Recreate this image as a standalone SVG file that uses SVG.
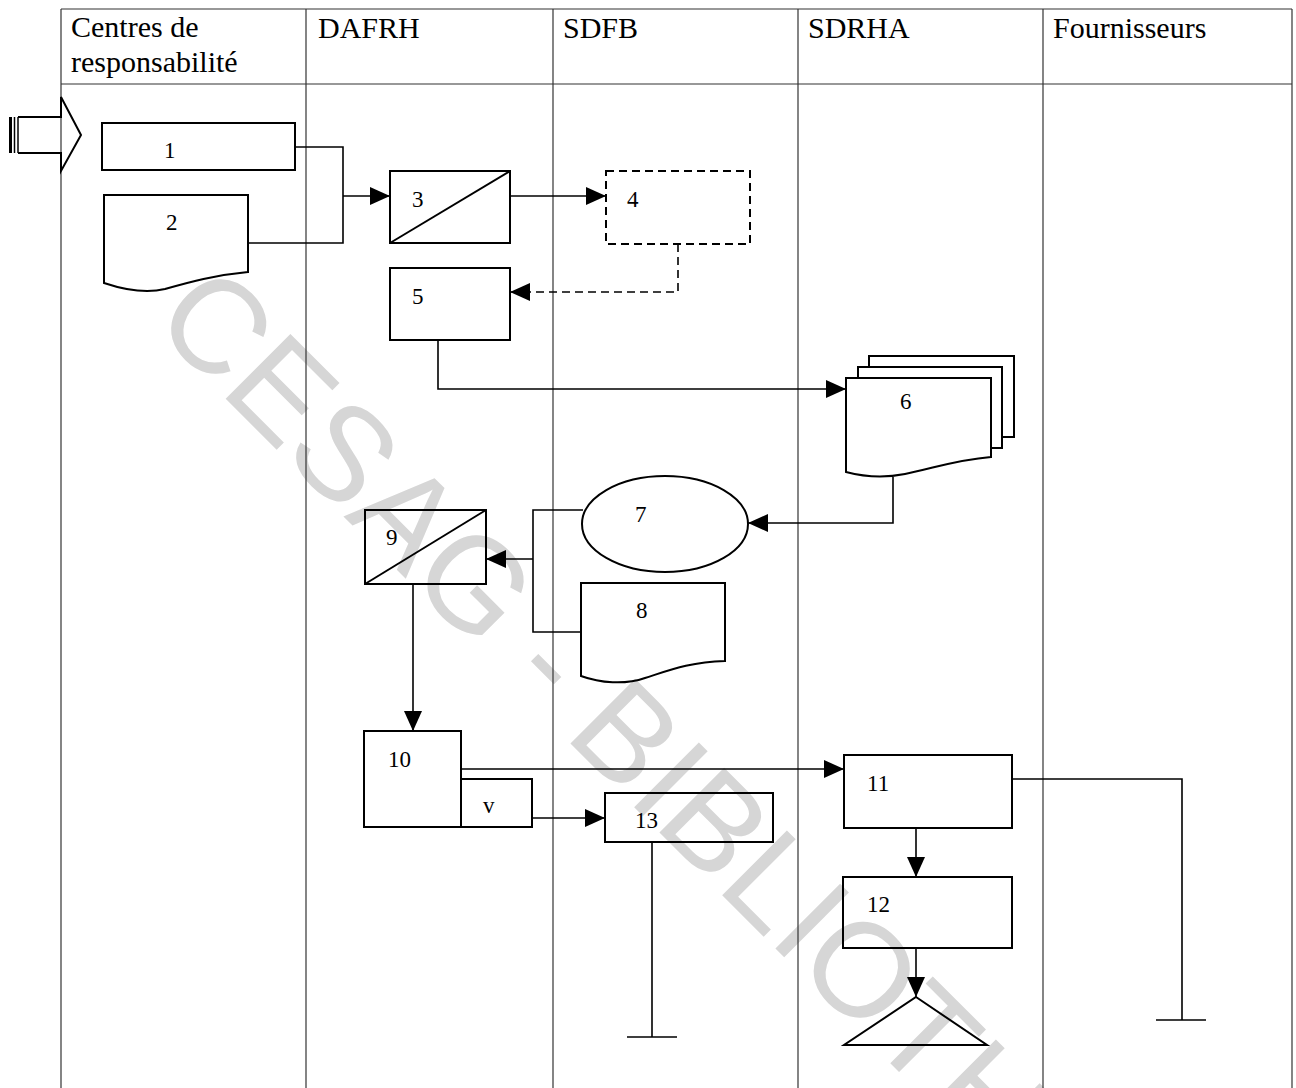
<svg xmlns="http://www.w3.org/2000/svg" width="1296" height="1088" viewBox="0 0 1296 1088">
<style>
.lane{stroke:#333;stroke-width:1.2;fill:none}
.shape{stroke:#000;stroke-width:2;fill:none}
.conn{stroke:#000;stroke-width:1.6;fill:none}
.dash{stroke-dasharray:8,5}
.hdr{font-family:"Liberation Serif","Times New Roman",serif;font-size:30px;fill:#000}
.lbl{font-family:"Liberation Serif","Times New Roman",serif;font-size:23px;fill:#000}
.wm{font-family:"Liberation Sans",Arial,sans-serif;font-size:133px;fill:#d6d6d6}
</style>
<defs>
<marker id="ah" markerUnits="userSpaceOnUse" markerWidth="20" markerHeight="18" refX="20" refY="9" orient="auto">
<path d="M0,0 L20,9 L0,18 Z" fill="#000"/>
</marker>
</defs>
<rect width="1296" height="1088" fill="#fff"/>
<text class="wm" transform="translate(150,323) rotate(45)">CESAG - BIBLIOTH</text>

<g id="lanes">
<line class="lane" x1="61" y1="9" x2="1292" y2="9"/>
<line class="lane" x1="61" y1="84" x2="1292" y2="84"/>
<line class="lane" x1="61" y1="9" x2="61" y2="1088"/>
<line class="lane" x1="306" y1="9" x2="306" y2="1088"/>
<line class="lane" x1="553" y1="9" x2="553" y2="1088"/>
<line class="lane" x1="798" y1="9" x2="798" y2="1088"/>
<line class="lane" x1="1043" y1="9" x2="1043" y2="1088"/>
<line class="lane" x1="1292" y1="9" x2="1292" y2="1088"/>
<text class="hdr" x="71" y="37">Centres de</text>
<text class="hdr" x="71" y="72">responsabilité</text>
<text class="hdr" x="318" y="38">DAFRH</text>
<text class="hdr" x="563" y="38">SDFB</text>
<text class="hdr" x="808" y="38">SDRHA</text>
<text class="hdr" x="1053" y="38">Fournisseurs</text>
</g>

<g id="start-arrow">
<line x1="10.5" y1="117" x2="10.5" y2="153" stroke="#000" stroke-width="3"/>
<line x1="14.5" y1="117" x2="14.5" y2="153" stroke="#000" stroke-width="1.5"/>
<line x1="18" y1="117" x2="18" y2="153" stroke="#000" stroke-width="1.5"/>
<path class="shape" d="M18,117 H61 V97 L81,135 L61,171 V153 H18"/>
</g>

<g id="node1"><rect class="shape" x="102" y="123" width="193" height="47"/><text class="lbl" x="164" y="158">1</text></g>
<g id="node2"><path class="shape" d="M104,283 V195 H248 V272 C215,275 190,282 165,289 C145,294 125,290 104,283 Z"/><text class="lbl" x="166" y="230">2</text></g>
<g id="node3"><rect class="shape" x="390" y="171" width="120" height="72"/><line class="shape" x1="390" y1="243" x2="510" y2="171"/><text class="lbl" x="412" y="207">3</text></g>
<g id="node4"><rect class="shape dash" x="606" y="171" width="144" height="73"/><text class="lbl" x="627" y="207">4</text></g>
<g id="node5"><rect class="shape" x="390" y="268" width="120" height="72"/><text class="lbl" x="412" y="304">5</text></g>
<g id="node6">
<path class="shape" d="M869,367 V356 H1014 V437 H1002"/>
<path class="shape" d="M858,378 V367 H1002 V448 H991"/>
<path class="shape" d="M846,472 V378 H991 V457 C955,460 935,468 905,474 C885,478 865,477 846,472 Z"/>
<text class="lbl" x="900" y="409">6</text>
</g>
<g id="node7"><ellipse class="shape" cx="665" cy="524" rx="83" ry="48"/><text class="lbl" x="635" y="522">7</text></g>
<g id="node8"><path class="shape" d="M581,676 V583 H725 V661 C690,662 670,670 645,678 C625,685 600,683 581,676 Z"/><text class="lbl" x="636" y="618">8</text></g>
<g id="node9"><rect class="shape" x="365" y="510" width="121" height="74"/><line class="shape" x1="365" y1="584" x2="486" y2="510"/><text class="lbl" x="386" y="545">9</text></g>
<g id="node10"><path class="shape" d="M364,731 H461 V827 H364 Z M461,779 H532 V827 H461"/><text class="lbl" x="388" y="767">10</text><text class="lbl" x="483" y="813">v</text></g>
<g id="node11"><rect class="shape" x="844" y="755" width="168" height="73"/><text class="lbl" x="867" y="791">11</text></g>
<g id="node12"><rect class="shape" x="843" y="877" width="169" height="71"/><text class="lbl" x="867" y="912">12</text></g>
<g id="node13"><rect class="shape" x="605" y="793" width="168" height="49"/><text class="lbl" x="635" y="828">13</text></g>
<g id="archive"><path class="shape" d="M916,997 L987,1045 H844 Z"/></g>

<g id="connectors">
<path class="conn" d="M295,147 H343 V243 H248"/>
<path class="conn" d="M343,196 H390" marker-end="url(#ah)"/>
<path class="conn" d="M510,196 H606" marker-end="url(#ah)"/>
<path class="conn dash" d="M678,244 V292 H510" marker-end="url(#ah)"/>
<path class="conn" d="M438,340 V389 H846" marker-end="url(#ah)"/>
<path class="conn" d="M893,477 V523 H748" marker-end="url(#ah)"/>
<path class="conn" d="M583,510 H533 V632 H581"/>
<path class="conn" d="M533,559 H486" marker-end="url(#ah)"/>
<path class="conn" d="M413,584 V731" marker-end="url(#ah)"/>
<path class="conn" d="M461,769 H844" marker-end="url(#ah)"/>
<path class="conn" d="M532,818 H605" marker-end="url(#ah)"/>
<path class="conn" d="M652,842 V1037 M627,1037 H677"/>
<path class="conn" d="M1012,779 H1182 V1020 M1156,1020 H1206"/>
<path class="conn" d="M916,828 V877" marker-end="url(#ah)"/>
<path class="conn" d="M916,948 V997" marker-end="url(#ah)"/>
</g>
</svg>
